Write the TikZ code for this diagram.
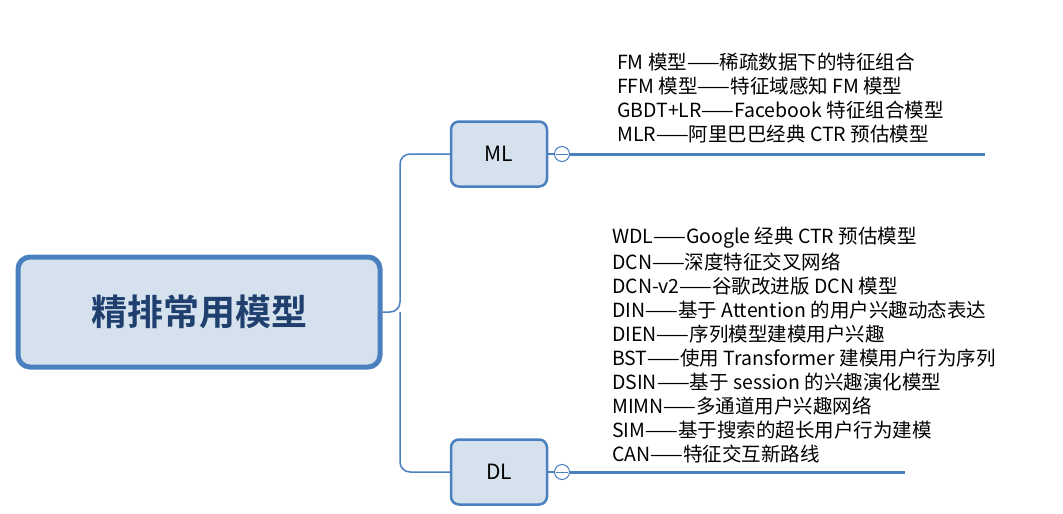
\documentclass[tikz,border=0pt]{standalone}
\usepackage{fontspec}
\setmainfont{Noto Sans CJK SC}
\newfontfamily\cjkb{Noto Sans CJK SC Bold}
\definecolor{bd}{HTML}{4A7FC0}
\definecolor{fl}{HTML}{D6E1EE}
\definecolor{tx}{HTML}{1F3F6E}
\begin{document}
\begin{tikzpicture}[x=1pt,y=-1pt,
 root/.style={draw=bd,line width=5pt,fill=fl,rounded corners=12pt,minimum width=362pt,minimum height=110pt},
 sub/.style={draw=bd,line width=2.5pt,fill=fl,rounded corners=8pt,minimum width=96pt,minimum height=65pt,font=\fontsize{21}{24}\selectfont},
 leaf/.style={anchor=west,font=\fontsize{19.5}{24}\selectfont,inner sep=0pt},
 conn/.style={draw=bd,line width=1.5pt},
 col/.style={circle,draw=bd,line width=1pt,fill=white,minimum size=15pt,inner sep=0pt}]
\useasboundingbox (0,0) rectangle (1063,514);
\node[root] (r) at (199,312) {\cjkb\fontsize{36}{40}\selectfont\color{tx}精排常用模型};
\node[sub] (ml) at (499,154) {ML};
\node[sub] (dl) at (499,472) {DL};
\node[col] (c1) at (562,154) {};
\node[col] (c2) at (562,472) {};
\draw[bd,line width=1pt] (556,154)--(568,154) (556,472)--(568,472);
\draw[conn,rounded corners=10pt] (r.east) -- (400,312) |- (ml.west);
\draw[conn,rounded corners=10pt] (400,312) |- (dl.west);
\draw[conn] (ml.east) -- (c1.west);
\draw[conn] (dl.east) -- (c2.west);
\coordinate (e1) at (985,154);
\coordinate (e2) at (905,472);
\draw[bd,line width=3pt] (c1.east) -- (e1);
\draw[bd,line width=3pt] (c2.east) -- (e2);
\foreach \t [count=\i] in {FM 模型——稀疏数据下的特征组合,FFM 模型——特征域感知 FM 模型,GBDT+LR——Facebook 特征组合模型,MLR——阿里巴巴经典 CTR 预估模型}
  \node[leaf] (m\i) at (617,38+24*\i) {\t};
\foreach \t [count=\i] in {WDL——Google 经典 CTR 预估模型,DCN——深度特征交叉网络,DCN-v2——谷歌改进版 DCN 模型,DIN——基于 Attention 的用户兴趣动态表达,DIEN——序列模型建模用户兴趣,BST——使用 Transformer 建模用户行为序列,DSIN——基于 session 的兴趣演化模型,MIMN——多通道用户兴趣网络,SIM——基于搜索的超长用户行为建模,CAN——特征交互新路线}
  \node[leaf] (d\i) at (612,214+24*\i) {\t};
\end{tikzpicture}
\end{document}
